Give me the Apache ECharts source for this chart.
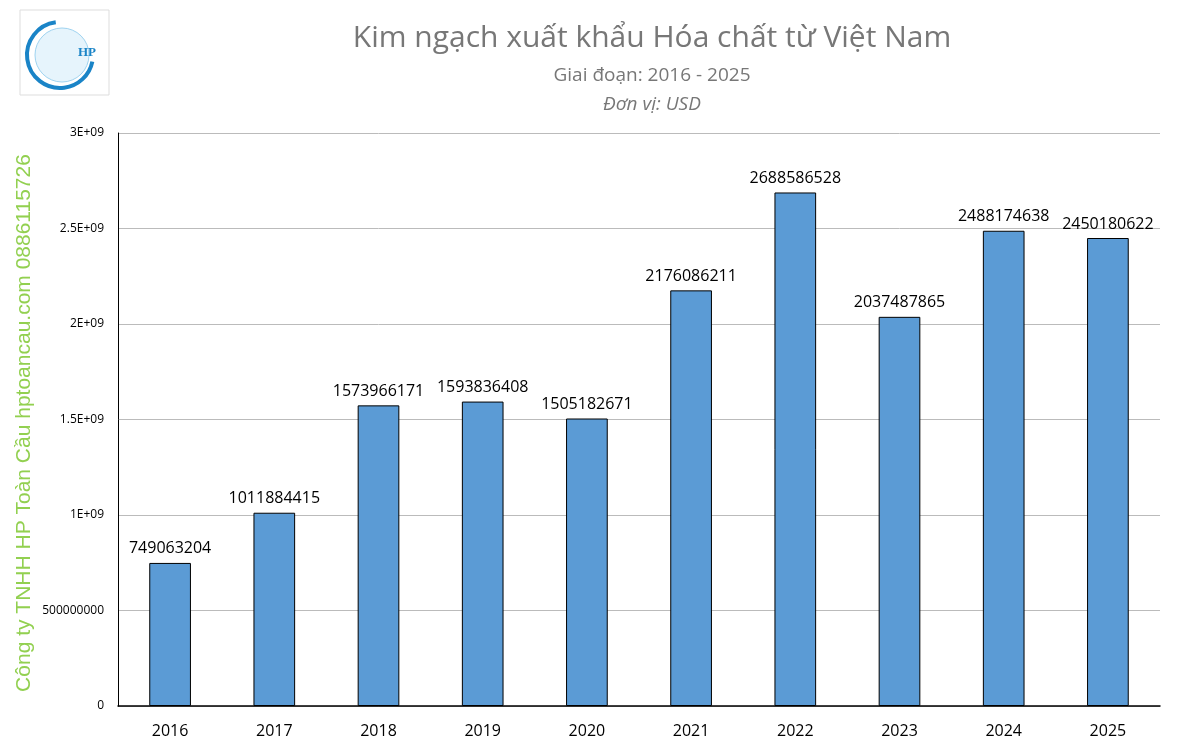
<!DOCTYPE html>
<html><head><meta charset="utf-8">
<script src="https://cdn.jsdelivr.net/npm/echarts@6/dist/echarts.min.js"></script>
<style>html,body{margin:0;padding:0;background:#fff}#c{width:1177px;height:751px}</style>
</head><body><div id="c"></div>
<script>
const categories = ['2016','2017','2018','2019','2020','2021','2022','2023','2024','2025'];
const values = [749063204,1011884415,1573966171,1593836408,1505182671,2176086211,2688586528,2037487865,2488174638,2450180622];
const yTickLabels = {0:'0',500000000:'500000000',1000000000:'1E+09',1500000000:'1.5E+09',2000000000:'2E+09',2500000000:'2.5E+09',3000000000:'3E+09'};

const chart = echarts.init(document.getElementById('c'));
chart.setOption({
  animation:false,
  title:[
    {text:'Kim ngạch xuất khẩu Hóa chất từ Việt Nam',left:647,top:18,textAlign:'center',textStyle:{fontFamily:'Open Sans',fontWeight:'normal',fontSize:30,color:'#777'}},
    {text:'Giai đoạn: 2016 - 2025',left:647,top:61,textAlign:'center',textStyle:{fontFamily:'Open Sans',fontWeight:'normal',fontSize:19,color:'#777'}},
    {text:'Đơn vị: USD',left:647,top:90,textAlign:'center',textStyle:{fontFamily:'Open Sans',fontWeight:'normal',fontStyle:'italic',fontSize:19,color:'#777'}}
  ],
  grid:{left:118,right:17,top:133,bottom:45},
  xAxis:{type:'category',data:categories,axisTick:{show:false},
    axisLine:{lineStyle:{color:'#000',width:1.5}},
    axisLabel:{fontFamily:'Open Sans',fontSize:16,color:'#000',margin:17}},
  yAxis:{type:'value',min:0,max:3000000000,interval:500000000,
    axisLine:{show:true,lineStyle:{color:'#000'}},axisTick:{show:false},
    splitLine:{lineStyle:{color:'#bbb'}},
    axisLabel:{fontFamily:'Open Sans',fontSize:12,color:'#000',margin:14,formatter:v=>yTickLabels[v]}},
  series:[{type:'bar',data:values,barWidth:'40%',
    itemStyle:{color:'#5b9bd5',borderColor:'#000',borderWidth:1},
    label:{show:true,position:'top',fontFamily:'Open Sans',fontSize:16,color:'#000',distance:6}}],
  graphic:[
    {type:'rect',shape:{x:20,y:10,width:89,height:85},style:{fill:'#fff',stroke:'#ddd',lineWidth:1}},
    {type:'circle',shape:{cx:62,cy:55,r:27},style:{fill:'#e6f4fc',stroke:'#9fd3f0',lineWidth:1}},
    {type:'arc',shape:{cx:60,cy:55,r:33,startAngle:-1.7,endAngle:0.2,clockwise:false},style:{stroke:'#1a84c7',lineWidth:4,fill:null}},
    {type:'text',style:{x:78,y:46,text:'HP',font:'bold 13px Liberation Serif',fill:'#1a84c7'}},
    {type:'text',rotation:Math.PI/2,x:24,y:423,style:{text:'Công ty TNHH HP Toàn Cầu hptoancau.com 0886115726',font:'21px Liberation Sans',fill:'#92d050',align:'center',verticalAlign:'middle'}}
  ]
});
</script></body></html>
